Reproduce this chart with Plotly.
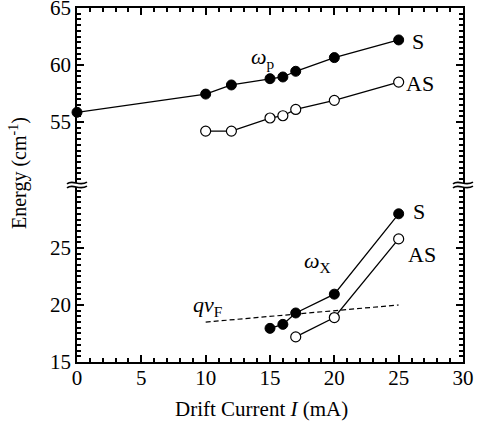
import plotly.graph_objects as go
from plotly.subplots import make_subplots

# ---- data ----
I_S_p = [0, 10, 12, 15, 16, 17, 20, 25]
E_S_p = [55.85, 57.45, 58.25, 58.8, 58.95, 59.45, 60.65, 62.2]
I_AS_p = [10, 12, 15, 16, 17, 20, 25]
E_AS_p = [54.2, 54.2, 55.35, 55.55, 56.1, 56.9, 58.5]
I_S_x = [15, 16, 17, 20, 25]
E_S_x = [17.95, 18.3, 19.3, 20.95, 28.0]
I_AS_x = [17, 20, 25]
E_AS_x = [17.2, 18.9, 25.8]
I_qvF = [10, 25]
E_qvF = [18.5, 20.0]

x_ticks = [0, 5, 10, 15, 20, 25, 30]
y_ticks_upper = [55, 60, 65]
y_ticks_lower = [15, 20, 25]

FONT = "Liberation Serif"
W, H = 477, 435
ML, MR, MT, MB = 77, 14, 8, 73
PW, PH = W - ML - MR, H - MT - MB

fig = make_subplots(rows=2, cols=1, shared_xaxes=True, vertical_spacing=0)

line_style = dict(color="black", width=1.3)
filled = dict(symbol="circle", size=10, color="black", line=dict(color="black", width=1))
opened = dict(symbol="circle", size=10, color="white", line=dict(color="black", width=1.2))

fig.add_trace(go.Scatter(x=I_S_p, y=E_S_p, mode="lines+markers", line=line_style,
                         marker=filled, cliponaxis=False, name="S (ωp)"), row=1, col=1)
fig.add_trace(go.Scatter(x=I_AS_p, y=E_AS_p, mode="lines+markers", line=line_style,
                         marker=opened, cliponaxis=False, name="AS (ωp)"), row=1, col=1)
fig.add_trace(go.Scatter(x=I_qvF, y=E_qvF, mode="lines",
                         line=dict(color="black", width=1.2, dash="5px,3px"),
                         name="qvF"), row=2, col=1)
fig.add_trace(go.Scatter(x=I_S_x, y=E_S_x, mode="lines+markers", line=line_style,
                         marker=filled, cliponaxis=False, name="S (ωX)"), row=2, col=1)
fig.add_trace(go.Scatter(x=I_AS_x, y=E_AS_x, mode="lines+markers", line=line_style,
                         marker=opened, cliponaxis=False, name="AS (ωX)"), row=2, col=1)

gap_top = 183
gap_bot = 187
up_dom0 = (H - MB - gap_top) / PH
lo_dom1 = (H - MB - gap_bot) / PH
ppu = 11.4  # pixels per unit
up_range = [65 - (gap_top - MT) / ppu, 65.001]
lo_range = [14.999, 15 + (H - MB - gap_bot) / ppu]

tickfont = dict(family=FONT, size=21, color="black")
minor_y = dict(tickmode="linear", ticks="inside", ticklen=4, tickwidth=1.5,
               tickcolor="black", dtick=0.5, tick0=0, showgrid=False)
common_y = dict(showline=True, linecolor="black", linewidth=1.6, mirror="allticks",
                ticks="inside", ticklen=7, tickwidth=1.6, tickcolor="black",
                showgrid=False, zeroline=False, tickfont=tickfont, automargin=False,
                ticklabeloverflow="allow", minor=minor_y, tickmode="array")
fig.update_layout(
    yaxis=dict(domain=[up_dom0, 1], range=up_range, tickvals=y_ticks_upper, **common_y),
    yaxis2=dict(domain=[0, lo_dom1], range=lo_range, tickvals=y_ticks_lower, **common_y),
)
minor_x = dict(tickmode="linear", ticks="inside", ticklen=4, tickwidth=1.5,
               tickcolor="black", dtick=1, tick0=0, showgrid=False)
common_x = dict(range=[0, 30], showline=True, linecolor="black", linewidth=1.6,
                ticks="inside", ticklen=7, tickwidth=1.6, tickcolor="black",
                showgrid=False, zeroline=False, tickmode="array", tickvals=x_ticks,
                automargin=False, minor=minor_x)
fig.update_layout(
    xaxis=dict(side="top", showticklabels=False, matches="x2", **common_x),
    xaxis2=dict(side="bottom", showticklabels=True, tickfont=tickfont,
                ticklabeloverflow="allow", ticklabelstandoff=-4, **common_x),
)

def px2x(px):
    return (px - ML) / PW

def px2y(py):
    return (H - MB - py) / PH

# break marks
shapes = []
for ax_px in (ML, ML + PW):
    for gy in (gap_top, gap_bot):
        x0 = px2x(ax_px - 10)
        x1 = px2x(ax_px + 10)
        y0 = px2y(gy + 1.5)
        y1 = px2y(gy - 1.5)
        ym = px2y(gy)
        a = (y1 - y0)
        path = (f"M {x0},{ym - a*0.3} C {x0 + (x1-x0)*0.3},{ym + a*1.4} "
                f"{x0 + (x1-x0)*0.6},{ym - a*1.4} {x1},{ym + a*0.3}")
        shapes.append(dict(type="path", xref="paper", yref="paper", path=path,
                           line=dict(color="black", width=1.6), layer="above"))
fig.update_layout(shapes=shapes)

lab = dict(family=FONT, size=22, color="black")
annotations = [
    dict(x=25.85, y=62.1, xref="x", yref="y", text="S", showarrow=False,
         xanchor="left", yanchor="middle", font=lab),
    dict(x=25.45, y=58.35, xref="x", yref="y", text="AS", showarrow=False,
         xanchor="left", yanchor="middle", font=lab),
    dict(x=13.4, y=60.6, xref="x", yref="y", text="<i>ω</i><sub>p</sub>", showarrow=False,
         xanchor="left", yanchor="middle", font=lab),
    dict(x=25.95, y=28.2, xref="x2", yref="y2", text="S", showarrow=False,
         xanchor="left", yanchor="middle", font=lab),
    dict(x=25.6, y=24.4, xref="x2", yref="y2", text="AS", showarrow=False,
         xanchor="left", yanchor="middle", font=lab),
    dict(x=17.5, y=23.8, xref="x2", yref="y2", text="<i>ω</i><sub>X</sub>", showarrow=False,
         xanchor="left", yanchor="middle", font=lab),
    dict(x=8.85, y=19.9, xref="x2", yref="y2", text="<i>qv</i><sub>F</sub>", showarrow=False,
         xanchor="left", yanchor="middle", font=lab),
    dict(x=px2x(18), y=px2y(173), xref="paper", yref="paper",
         text="Energy (cm<sup>-1</sup>)", textangle=-90, showarrow=False,
         xanchor="center", yanchor="middle", font=dict(family=FONT, size=20, color="black")),
    dict(x=px2x(261), y=px2y(409), xref="paper", yref="paper",
         text="Drift Current <i>I</i> (mA)", showarrow=False,
         xanchor="center", yanchor="middle", font=dict(family=FONT, size=21, color="black")),
]
fig.update_layout(annotations=annotations)

fig.update_layout(
    width=W, height=H, margin=dict(l=ML, r=MR, t=MT, b=MB),
    paper_bgcolor="white", plot_bgcolor="white", showlegend=False,
    font=dict(family=FONT, color="black"),
)

fig.write_html("out.html")
